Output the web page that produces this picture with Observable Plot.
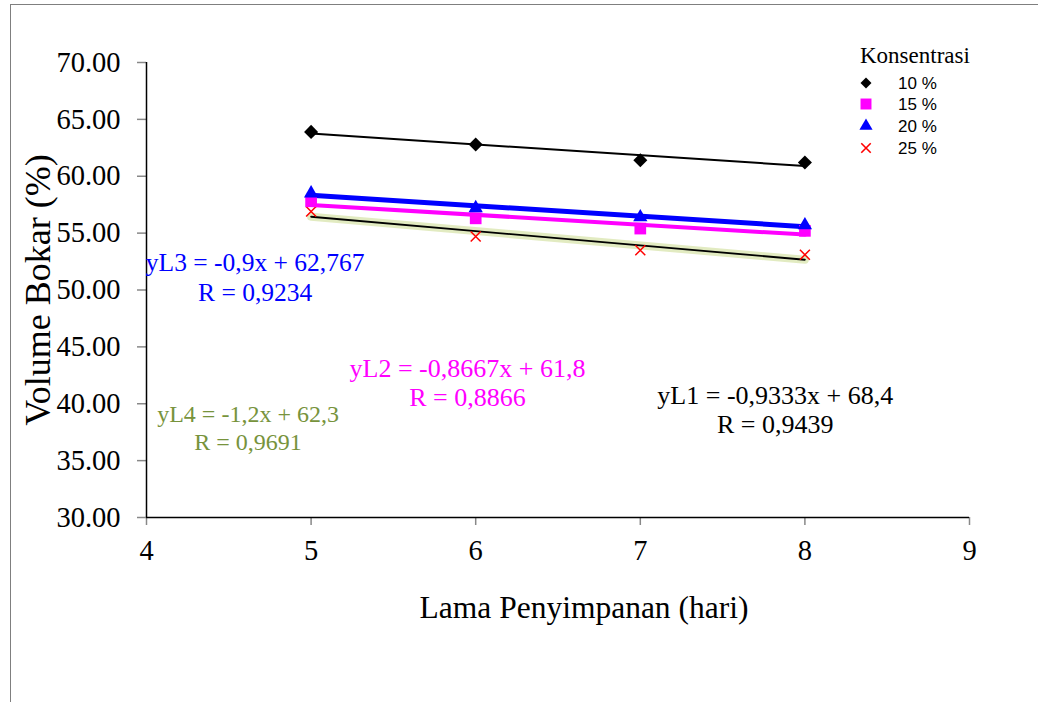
<!DOCTYPE html>
<html>
<head>
<meta charset="utf-8">
<script src="https://cdn.jsdelivr.net/npm/d3@7"></script>
<script src="https://cdn.jsdelivr.net/npm/@observablehq/plot@0.6"></script>
<style>
  html, body { margin: 0; padding: 0; background: #fff; }
  #wrap { position: relative; width: 1038px; height: 702px; overflow: hidden; }
  #chart { position: absolute; left: 0; top: 0; }
  #chart svg, #chart svg text { font-family: "Liberation Serif", "Times New Roman", serif !important; font-variant: normal !important; }
  #border { position: absolute; left: 10px; top: 4px; width: 1100px; height: 800px;
            border-top: 1.5px solid #7f7f7f; border-left: 1.5px solid #7f7f7f; pointer-events: none; }
  #legend { position: absolute; left: 0; top: 0; }
  .lt { position: absolute; font-family: "Liberation Serif", serif; font-size: 23px; color: #000; white-space: nowrap; line-height: 1; }
  .li { position: absolute; font-family: "Liberation Sans", sans-serif; font-size: 17px; color: #000; white-space: nowrap; line-height: 1; }
</style>
</head>
<body>
<div id="wrap">
  <div id="border"></div>
  <div id="chart"></div>
  <div id="legend"></div>
</div>
<script>
// ---- data ----
const days = [5, 6, 7, 8];
const seriesNames = ["10 %", "15 %", "20 %", "25 %"];
const v10 = [63.9, 62.8, 61.4, 61.2];
const v15 = [57.8, 56.3, 55.4, 55.2];
const v20 = [58.5, 57.2, 56.4, 55.7];
const v25 = [56.9, 54.7, 53.5, 53.1];
const equations = ["yL1 = -0,9333x + 68,4", "yL2 = -0,8667x + 61,8", "yL3 = -0,9x + 62,767", "yL4 = -1,2x + 62,3"];
const rValues = ["R = 0,9439", "R = 0,8866", "R = 0,9234", "R = 0,9691"];
const xTicks = [4, 5, 6, 7, 8, 9];
const yTicks = [30, 35, 40, 45, 50, 55, 60, 65, 70];
const xTitle = "Lama Penyimpanan (hari)";
const yTitle = "Volume Bokar (%)";
const legendTitle = "Konsentrasi";

// ---- styles / layout ----
const eqColors = ["#000000", "#FF00FF", "#0000FF", "#77933C"];
const eqPos = [
  {x: 7.82, y: 40.72, ry: 38.18, fs: 26},
  {x: 5.95, y: 43.10, ry: 40.55, fs: 26},
  {x: 4.66, y: 52.42, ry: 49.78, fs: 25.5},
  {x: 4.617, y: 39.05, ry: 36.59, fs: 24}
];

const rows = (vals, s) => days.map((d, i) => ({day: d, value: vals[i], series: s}));
const r10 = rows(v10, seriesNames[0]);
const r15 = rows(v15, seriesNames[1]);
const r20 = rows(v20, seriesNames[2]);
const r25 = rows(v25, seriesNames[3]);

const eqRows = equations.map((t, i) => ({t, r: rValues[i], c: eqColors[i], ...eqPos[i]}));

const serif = "Liberation Serif, Times New Roman, serif";

const plot = Plot.plot({
  width: 1038,
  height: 702,
  marginLeft: 146,
  marginRight: 69,
  marginTop: 62,
  marginBottom: 185,
  style: {fontFamily: serif, background: "transparent", overflow: "visible"},
  x: {domain: [4, 9]},
  y: {domain: [30, 70]},
  marks: [
    Plot.axisY({ticks: yTicks, tickFormat: d => d.toFixed(2), tickSize: 9, tickPadding: 17,
      fontSize: 28.5, fontFamily: serif, fontVariant: "normal", stroke: "#888", fill: "#000", label: null, strokeWidth: 1.5}),
    Plot.axisX({ticks: xTicks, tickFormat: d => String(d), tickSize: 8, tickPadding: 14,
      fontSize: 28.5, fontFamily: serif, fontVariant: "normal", stroke: "#888", fill: "#000", label: null, strokeWidth: 1.5}),
    Plot.ruleX([4], {stroke: "#000", strokeWidth: 1.5}),
    Plot.ruleY([30], {stroke: "#000", strokeWidth: 1.5}),
    // trend lines
    Plot.linearRegressionY(r25, {x: "day", y: "value", stroke: "#d6e3a6", strokeWidth: 8, strokeOpacity: 0.7, ci: 0}),
    Plot.linearRegressionY(r25, {x: "day", y: "value", stroke: "#000", strokeWidth: 1.8, ci: 0}),
    Plot.linearRegressionY(r10, {x: "day", y: "value", stroke: "#000", strokeWidth: 2, ci: 0}),
    Plot.linearRegressionY(r15, {x: "day", y: "value", stroke: "#FF00FF", strokeWidth: 4, ci: 0}),
    Plot.linearRegressionY(r20, {x: "day", y: "value", stroke: "#0000FF", strokeWidth: 5, ci: 0}),
    // points
    Plot.dot(r25, {x: "day", y: "value", symbol: "times", r: 4.6, stroke: "#FF0000", strokeWidth: 1.5}),
    Plot.dot(r15, {x: "day", y: "value", symbol: "square", r: 6.6, fill: "#FF00FF", stroke: "none"}),
    Plot.dot(r20, {x: "day", y: "value", symbol: "triangle", r: 5.3, fill: "#0000FF", stroke: "none"}),
    Plot.dot(r10, {x: "day", y: "value", symbol: "square", r: 5.6, rotate: 45, fill: "#000", stroke: "none"}),
    // equation labels
    Plot.text(eqRows, {x: "x", y: "y", text: "t", fill: "c", fontSize: d => d.fs, fontFamily: serif, textAnchor: "middle", lineAnchor: "middle"}),
    Plot.text(eqRows, {x: "x", y: "ry", text: "r", fill: "c", fontSize: d => d.fs, fontFamily: serif, textAnchor: "middle", lineAnchor: "middle"}),
    // axis titles
    Plot.text([xTitle], {frameAnchor: "bottom", dx: 26, dy: 90, text: d => d, fontSize: 31.5, fontFamily: serif, fill: "#000", textAnchor: "middle", lineAnchor: "middle"}),
    Plot.text([yTitle], {frameAnchor: "left", dx: -108, dy: 0, text: d => d, fontSize: 36, fontFamily: serif, fill: "#000", rotate: -90, textAnchor: "middle", lineAnchor: "middle"})
  ]
});
d3.select(plot).selectAll("text, tspan, g")
  .attr("font-family", serif)
  .style("font-family", "'Liberation Serif', 'Times New Roman', serif")
  .style("font-variant", "normal");
document.getElementById("chart").appendChild(plot);

// ---- legend ----
const legend = document.getElementById("legend");
const lt = document.createElement("div");
lt.className = "lt";
lt.textContent = legendTitle;
lt.style.left = "860px";
lt.style.top = "44px";
legend.appendChild(lt);

const legendSymbols = [
  {type: d3.symbolSquare, size: 60, rotate: 45, fill: "#000", stroke: "none"},
  {type: d3.symbolSquare, size: 120, rotate: 0, fill: "#FF00FF", stroke: "none"},
  {type: d3.symbolTriangle, size: 75, rotate: 0, fill: "#0000FF", stroke: "none"},
  {type: d3.symbolTimes, size: 60, rotate: 0, fill: "none", stroke: "#FF0000"}
];
const rowY = [83, 104, 126, 148];
seriesNames.forEach((name, i) => {
  const s = legendSymbols[i];
  const svg = d3.create("svg").attr("width", 24).attr("height", 24)
    .style("position", "absolute").style("left", (866 - 12) + "px").style("top", (rowY[i] - 12) + "px");
  svg.append("path")
    .attr("d", d3.symbol(s.type, s.size)())
    .attr("transform", `translate(12,12) rotate(${s.rotate})`)
    .attr("fill", s.fill).attr("stroke", s.stroke).attr("stroke-width", 1.6);
  legend.appendChild(svg.node());
  const t = document.createElement("div");
  t.className = "li";
  t.textContent = name;
  t.style.left = "898px";
  t.style.top = (rowY[i] - 8) + "px";
  legend.appendChild(t);
});
</script>
</body>
</html>
